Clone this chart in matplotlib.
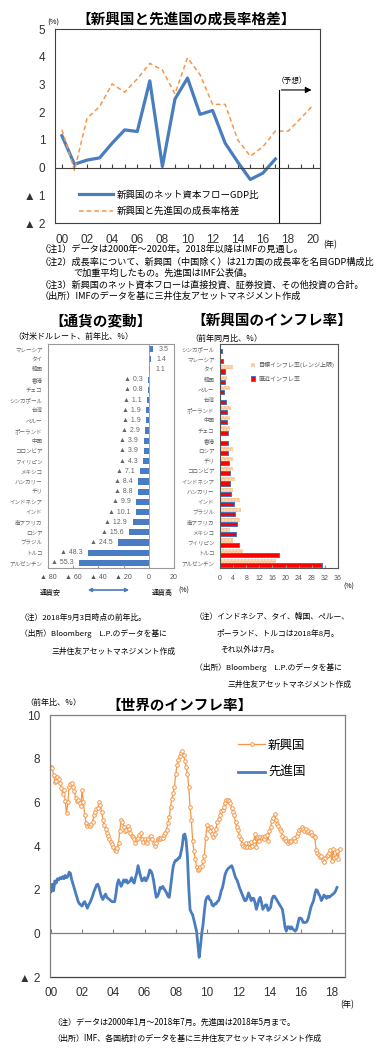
import numpy as np
import matplotlib
matplotlib.use("Agg")
import matplotlib.pyplot as plt

plt.rcParams['font.family'] = ['Noto Sans CJK JP', 'DejaVu Sans']
NUM_FONT = ['Liberation Sans', 'DejaVu Sans']

BLUE = '#4A7CC0'
ORANGE = '#F79646'

# ---- 新興国と先進国の成長率格差 (年次) ----
gap_years = list(range(2000, 2021))
flow_gdp = [1.15, 0.12, 0.27, 0.35, 0.88, 1.36, 1.3, 3.13, 0.04, 2.47,
            3.23, 1.92, 2.06, 0.88, 0.2, -0.43, -0.2, 0.31]
growth_gap = [1.37, -0.1, 1.78, 2.2, 3.02, 2.72, 3.2, 3.76, 3.52, 2.66,
              3.96, 3.35, 2.28, 2.28, 1.0, 0.41, 0.75, 1.32, 1.31, 1.77, 2.25]
gap_yticks = [-2, -1, 0, 1, 2, 3, 4, 5]
gap_yticklabels = ['▲ 2', '▲ 1', '0', '1', '2', '3', '4', '5']

# ---- 通貨の変動 ----
cur_names = ['マレーシア', 'タイ', '韓国', '香港', 'チェコ', 'シンガポール', '台湾',
             'ペルー', 'ポーランド', '中国', 'コロンビア', 'フィリピン', 'メキシコ',
             'ハンガリー', 'チリ', 'インドネシア', 'インド', '南アフリカ', 'ロシア',
             'ブラジル', 'トルコ', 'アルゼンチン']
cur_change = [3.5, 1.4, 1.1, -0.3, -0.8, -1.1, -1.9, -1.9, -2.9, -3.9, -3.9, -4.3,
              -7.1, -8.4, -8.8, -9.9, -10.1, -12.9, -15.6, -24.5, -48.3, -55.3]
cur_xticks = [-80, -60, -40, -20, 0, 20]
cur_xticklabels = ['▲ 80', '▲ 60', '▲ 40', '▲ 20', '0', '20']

# ---- 新興国のインフレ率 ----
inf_names = ['シンガポール', 'マレーシア', 'タイ', '韓国', 'ペルー', '台湾', 'ポーランド',
             '中国', 'チェコ', '香港', 'ロシア', 'チリ', 'コロンビア', 'インドネシア',
             'ハンガリー', 'インド', 'ブラジル', '南アフリカ', 'メキシコ', 'フィリピン',
             'トルコ', 'アルゼンチン']
inf_target = [np.nan, np.nan, 4.0, 2.0, 3.0, np.nan, 3.5, 3.0, 3.0, np.nan, 4.0, 4.0,
              4.0, 4.5, 4.0, 6.0, 6.5, 6.0, 3.0, 4.0, 7.0, 17.0]
inf_latest = [0.6, 0.9, 1.6, 1.4, 1.1, 1.8, 2.0, 2.1, 2.3, 2.4, 2.5, 2.7,
              3.1, 3.2, 3.4, 4.2, 4.5, 5.1, 4.8, 5.7, 17.9, 31.2]

# ---- 世界のインフレ率 (月次, 2000年1月～) ----
em_infl = [
    7.6, 7.55, 7.25, 6.95, 7.0, 7.15, 7.05, 6.9, 6.65, 6.4, 6.55, 6.05,   # 2000
    5.5, 6.0, 6.7, 6.85, 6.9, 6.7, 6.5, 6.2, 6.05, 6.1, 5.95, 5.85,       # 2001
    6.55, 6.0, 5.4, 5.05, 4.9, 4.95, 4.9, 5.0, 5.1, 5.4, 5.55, 5.7,       # 2002
    5.75, 6.0, 5.9, 5.55, 5.2, 4.95, 4.8, 4.6, 4.45, 4.3, 4.2, 4.1,       # 2003
    3.95, 3.8, 3.75, 3.9, 4.15, 4.7, 5.2, 5.1, 4.85, 4.7, 4.75, 4.9,      # 2004
    4.8, 4.6, 4.45, 4.4, 4.3, 4.15, 4.3, 4.35, 4.5, 4.6, 4.3, 4.2,        # 2005
    4.3, 4.2, 4.15, 4.3, 4.4, 4.45, 4.3, 4.15, 4.0, 4.15, 4.3, 4.35,      # 2006
    4.3, 4.35, 4.35, 4.5, 4.6, 4.75, 5.05, 5.35, 5.8, 6.15, 6.45, 6.7,    # 2007
    7.3, 7.7, 7.95, 8.1, 8.25, 8.35, 8.15, 7.9, 7.6, 7.3, 6.7, 5.8,       # 2008
    5.2, 4.25, 3.75, 3.4, 3.05, 2.9, 2.95, 3.05, 3.1, 3.3, 3.55, 4.35,    # 2009
    4.95, 4.8, 4.7, 4.85, 4.55, 4.4, 4.55, 4.8, 5.1, 5.25, 5.4, 5.6,      # 2010
    5.65, 5.8, 5.95, 6.1, 6.1, 6.05, 5.95, 5.75, 5.55, 5.4, 5.1, 4.85,    # 2011
    4.75, 4.45, 4.3, 4.1, 4.0, 3.95, 4.15, 3.95, 4.15, 3.95, 4.2, 4.0,    # 2012
    4.25, 4.55, 3.95, 4.4, 4.25, 4.4, 4.35, 4.4, 4.3, 4.45, 4.5, 4.25,    # 2013
    4.7, 4.85, 5.15, 5.3, 5.45, 5.2, 5.0, 4.9, 4.8, 4.7, 4.45, 4.3,       # 2014
    4.35, 4.25, 4.15, 4.25, 4.2, 4.25, 4.3, 4.35, 4.25, 4.45, 4.6, 4.75,  # 2015
    4.8, 4.85, 4.8, 4.7, 4.8, 4.65, 4.7, 4.6, 4.65, 4.5, 4.45, 4.4,       # 2016
    3.8, 3.7, 3.6, 3.5, 3.55, 3.35, 3.25, 3.45, 3.55, 3.6, 3.7, 3.8,      # 2017
    3.3, 3.85, 3.45, 3.5, 3.75, 3.4, 3.85,                                # 2018
]
dm_infl = [
    1.9, 2.25, 1.95, 2.4, 2.3, 2.5, 2.45, 2.55, 2.5, 2.6, 2.5, 2.65,      # 2000
    2.55, 2.6, 2.8, 2.75, 2.45, 2.25, 2.05, 1.85, 1.65, 1.45, 1.35, 1.3,  # 2001
    1.25, 1.4, 1.45, 1.3, 1.15, 1.3, 1.4, 1.55, 1.7, 1.9, 2.05, 2.2,      # 2002
    2.25, 2.1, 1.85, 1.65, 1.55, 1.7, 1.8, 1.65, 1.6, 1.55, 1.5, 1.45,    # 2003
    1.45, 1.45, 1.8, 2.25, 2.45, 2.3, 2.15, 2.3, 2.45, 2.35, 2.45, 2.3,   # 2004
    2.35, 2.4, 2.55, 2.4, 2.3, 2.55, 2.75, 3.1, 2.85, 2.6, 2.4, 2.45,     # 2005
    2.55, 2.4, 2.5, 2.65, 2.9, 2.85, 2.7, 2.4, 2.0, 1.65, 1.7, 1.85,      # 2006
    2.1, 2.05, 2.15, 2.05, 1.95, 1.85, 1.7, 1.65, 2.1, 2.6, 3.05, 3.25,   # 2007
    3.35, 3.35, 3.45, 3.45, 3.7, 4.0, 4.5, 4.55, 4.25, 3.5, 2.1, 1.1,     # 2008
    0.95, 0.85, 0.6, 0.35, 0.1, -0.5, -1.1, -0.6, 0.0, 0.4, 1.0, 1.5,     # 2009
    1.65, 1.7, 1.55, 1.5, 1.3, 1.25, 1.35, 1.35, 1.45, 1.5, 1.7, 1.95,    # 2010
    2.1, 2.4, 2.7, 2.85, 2.95, 3.0, 3.05, 3.1, 2.95, 2.75, 2.55, 2.45,    # 2011
    2.3, 2.1, 1.95, 1.8, 1.65, 1.5, 1.5, 1.65, 1.85, 1.7, 1.5, 1.6,       # 2012
    1.6, 1.4, 1.1, 1.3, 1.55, 1.65, 1.4, 1.1, 1.2, 1.3, 1.3, 1.05,        # 2013
    1.1, 1.2, 1.55, 1.7, 1.7, 1.6, 1.5, 1.4, 1.3, 1.2, 1.1, 0.75,         # 2014
    0.3, 0.1, 0.3, 0.3, 0.2, 0.3, 0.2, 0.15, 0.1, 0.2, 0.45, 0.7,         # 2015
    0.7, 0.65, 0.5, 0.5, 0.5, 0.55, 0.7, 0.95, 1.2, 1.35, 1.5, 1.8,       # 2016
    2.0, 1.95, 1.8, 1.7, 1.5, 1.6, 1.75, 1.7, 1.6, 1.7, 1.65, 1.7,        # 2017
    1.75, 1.8, 1.85, 1.95, 2.1,                                           # 2018
]
world_yticks = [-2, 0, 2, 4, 6, 8, 10]
world_yticklabels = ['▲ 2', '0', '2', '4', '6', '8', '10']

W, H = 390, 1054
fig = plt.figure(figsize=(W / 100, H / 100), dpi=100)


def fx(px):
    return px / W


def fy(py):
    return 1 - py / H


def box(l, t, r, b):
    return [fx(l), fy(b), (r - l) / W, (b - t) / H]


def ftext(x, y, s, size=6.6, **kw):
    kw.setdefault('va', 'center')
    fig.text(fx(x), fy(y), s, fontsize=size, **kw)


def num_font(labels):
    for t in labels:
        t.set_fontfamily(NUM_FONT)


# ===== 1. 成長率格差 =====
ax1 = fig.add_axes(box(55, 29, 320, 223))
ax1.plot(gap_years[:len(flow_gdp)], flow_gdp, color=BLUE, lw=2.3,
         label='新興国のネット資本フローGDP比')
ax1.plot(gap_years, growth_gap, color=ORANGE, lw=1.1, ls=(0, (3, 2)),
         label='新興国と先進国の成長率格差')
ax1.set_xlim(1999.45, 2020.55)
ax1.set_ylim(-2, 5)
ax1.set_yticks(gap_yticks, gap_yticklabels)
ax1.tick_params(axis='y', length=0, pad=7, labelsize=8.5, labelcolor='#333333')
num_font(ax1.get_yticklabels())
for s in ax1.spines.values():
    s.set_color('#404040')
    s.set_linewidth(0.8)
ax1.spines['bottom'].set_position(('data', 0))
ax1.set_xticks(gap_years)
ax1.tick_params(axis='x', direction='in', length=3, color='#404040', labelbottom=False)
sec1 = ax1.secondary_xaxis('bottom')
sec1.set_xticks(gap_years[::2], ['%02d' % (y % 100) for y in gap_years[::2]])
sec1.tick_params(length=0, pad=8, labelsize=8.5, labelcolor='#333333')
num_font(sec1.get_xticklabels())
sec1.spines['bottom'].set_color('#404040')
sec1.spines['bottom'].set_linewidth(0.8)

ax1.plot([2017.25, 2017.25], [-2, 2.8], color='black', lw=0.8)
ax1.annotate('', xy=(2020.1, 2.8), xytext=(2017.25, 2.8),
             arrowprops=dict(arrowstyle='-|>', color='black', lw=0.8, mutation_scale=9))
ax1.text(2018.3, 3.13, '（予想）', fontsize=5.5, ha='center', va='center')
ax1.legend(loc='lower left', bbox_to_anchor=(0.09, 0.035), frameon=False, fontsize=6.8,
           handlelength=3.6, handletextpad=0.4, labelspacing=0.75, borderpad=0,
           borderaxespad=0)

ftext(186, 19, '【新興国と先進国の成長率格差】', size=10.5, ha='center', weight='bold')
ftext(47, 23, '(%)', size=5.5)
ftext(323, 245, '(年)', size=6)
ftext(40, 250, '（注1）データは2000年～2020年。2018年以降はIMFの見通し。')
ftext(40, 262, '（注2）成長率について、新興国（中国除く）は21カ国の成長率を名目GDP構成比')
ftext(73, 273, 'で加重平均したもの。先進国はIMF公表値。')
ftext(40, 285, '（注3）新興国のネット資本フローは直接投資、証券投資、その他投資の合計。')
ftext(40, 296, '（出所）IMFのデータを基に三井住友アセットマネジメント作成')

# ===== 2a. 通貨の変動 =====
ax2 = fig.add_axes(box(48, 344, 174, 568))
pos = np.arange(len(cur_names))
bars = ax2.barh(pos, cur_change, height=0.6, color='#4A7CC4')
ax2.set_ylim(len(cur_names) - 0.5, -0.5)
ax2.set_xlim(-80, 20)
ax2.set_yticks(pos, cur_names)
ax2.tick_params(axis='y', length=0, pad=4, labelsize=4, labelcolor='#666666')
ax2.set_xticks(cur_xticks, cur_xticklabels)
ax2.tick_params(axis='x', direction='in', length=2, color='#999999', pad=4,
                labelsize=5, labelcolor='#555555')
num_font(ax2.get_xticklabels())
ax2.axvline(0, color='#999999', lw=0.6)
cur_labels = ['▲ %.1f' % -v if v < 0 else '%.1f' % v for v in cur_change]
num_font(ax2.bar_label(bars, labels=cur_labels, padding=4, fontsize=5, color='#666666'))
for s in ax2.spines.values():
    s.set_color('#999999')
    s.set_linewidth(0.8)

ftext(101, 320, '【通貨の変動】', size=10.5, ha='center', weight='bold')
ftext(13, 336, '（対米ドルレート、前年比、％）', size=5.8)
ftext(40, 593, '通貨安', size=5)
ftext(152, 593, '通貨高', size=5)
ftext(178, 591, '(%)', size=5)
fig.add_artist(matplotlib.patches.FancyArrowPatch(
    (fx(85), fy(590)), (fx(132), fy(590)), transform=fig.transFigure,
    arrowstyle='<|-|>', mutation_scale=5, color=BLUE, lw=1.2))
ftext(20, 618, '（注）2018年9月3日時点の前年比。', size=5.6)
ftext(20, 634, '（出所）Bloomberg　L.P.のデータを基に', size=5.6)
ftext(52, 652, '三井住友アセットマネジメント作成', size=5.6)

# ===== 2b. 新興国のインフレ率 =====
ax3 = fig.add_axes(box(220, 344, 338, 568))
pos3 = np.arange(len(inf_names))
ax3.barh(pos3 - 0.2, inf_target, height=0.4, color='#FAC896', hatch='.....',
         edgecolor='#FFE6CC', lw=0, label='目標インフレ率(レンジ上限)')
ax3.barh(pos3 + 0.2, inf_latest, height=0.4, color='#FF0000',
         edgecolor='#4472C4', lw=0.7, label='直近インフレ率')
ax3.set_ylim(len(inf_names) - 0.5, -0.5)
ax3.set_xlim(0, 36)
ax3.set_yticks(pos3, inf_names)
ax3.tick_params(axis='y', length=0, pad=4, labelsize=4, labelcolor='#666666')
ax3.set_xticks(range(0, 37, 4))
ax3.tick_params(axis='x', direction='in', length=2, color='#999999', pad=5,
                labelsize=5, labelcolor='#555555')
num_font(ax3.get_xticklabels())
for s in ax3.spines.values():
    s.set_color('#555555')
    s.set_linewidth(0.8)
ax3.legend(loc='upper left', bbox_to_anchor=(0.26, 0.92), frameon=False, fontsize=4.3,
           handlelength=0.8, handleheight=0.8, handletextpad=0.5, labelspacing=1.3,
           borderpad=0, borderaxespad=0, labelcolor='#555555')

ftext(272, 320, '【新興国のインフレ率】', size=10.5, ha='center', weight='bold')
ftext(190, 338, '（前年同月比、％）', size=5.8)
ftext(343, 587, '(%)', size=5)
ftext(195, 617, '（注）インドネシア、タイ、韓国、ペルー、', size=5.6)
ftext(217, 634, 'ポーランド、トルコは2018年8月。', size=5.6)
ftext(220, 650, 'それ以外は7月。', size=5.6)
ftext(195, 668, '（出所）Bloomberg　L.P.のデータを基に', size=5.6)
ftext(228, 685, '三井住友アセットマネジメント作成', size=5.6)

# ===== 3. 世界のインフレ率 =====
ax4 = fig.add_axes(box(50, 715, 345, 977))
em_t = 2000 + np.arange(len(em_infl)) / 12
dm_t = 2000 + np.arange(len(dm_infl)) / 12
ax4.plot(em_t, em_infl, color=ORANGE, lw=0.9, marker='o', ms=2.6, mfc='white',
         mec=ORANGE, mew=0.7, label='新興国')
ax4.plot(dm_t, dm_infl, color=BLUE, lw=2.0, label='先進国')
ax4.set_xlim(1999.94, 2018.85)
ax4.set_ylim(-2, 10)
ax4.set_yticks(world_yticks, world_yticklabels)
ax4.tick_params(axis='y', length=0, pad=7, labelsize=8.5, labelcolor='#333333')
num_font(ax4.get_yticklabels())
for s in ax4.spines.values():
    s.set_color('#808080')
    s.set_linewidth(0.9)
ax4.spines['bottom'].set_position(('data', 0))
world_years = list(range(2000, 2019, 2))
ax4.set_xticks(world_years)
ax4.tick_params(axis='x', direction='in', length=3, color='#808080', labelbottom=False)
sec4 = ax4.secondary_xaxis('bottom')
sec4.set_xticks(world_years, ['%02d' % (y % 100) for y in world_years])
sec4.tick_params(length=0, pad=7, labelsize=8.5, labelcolor='#333333')
num_font(sec4.get_xticklabels())
sec4.spines['bottom'].set_color('#404040')
sec4.spines['bottom'].set_linewidth(0.9)
ax4.legend(loc='upper left', bbox_to_anchor=(0.637, 0.91), frameon=False, fontsize=9,
           handlelength=2.2, handletextpad=0.2, labelspacing=1.15, borderpad=0,
           borderaxespad=0)

ftext(180, 705, '【世界のインフレ率】', size=10.5, ha='center', weight='bold')
ftext(25, 702, '（前年比、％）', size=5.8)
ftext(340, 1005, '(年)', size=6)
ftext(52, 1022, '（注）データは2000年1月～2018年7月。先進国は2018年5月まで。', size=5.8)
ftext(52, 1038, '（出所）IMF、各国統計のデータを基に三井住友アセットマネジメント作成', size=5.8)

fig.savefig('out.png', dpi=100)
